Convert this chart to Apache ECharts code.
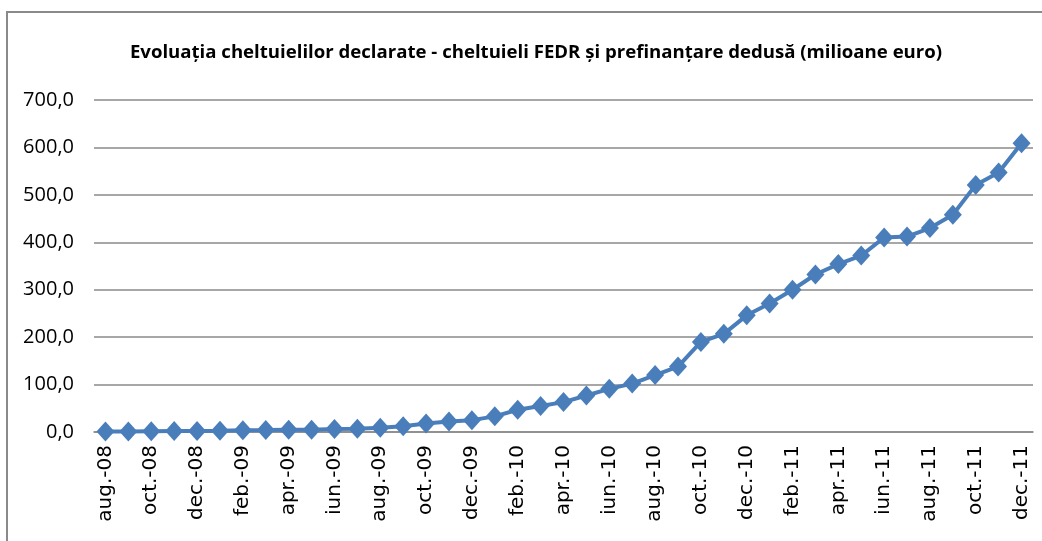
<!DOCTYPE html>
<html lang="ro">
<head>
<meta charset="UTF-8" />
<title>Evoluaţia cheltuielilor declarate</title>
<style>
  html, body { margin: 0; padding: 0; background: #fff; overflow: hidden; }
  #frame {
    position: absolute; left: 6px; top: 11px; width: 1100px; height: 600px;
    border-top: 2px solid #8a8a8a; border-left: 2px solid #8a8a8a;
  }
  #container { position: absolute; left: 0; top: 0; width: 1042px; height: 541px; }
</style>
</head>
<body>
<div id="frame"></div>
<div id="container"></div>
<script src="https://cdn.jsdelivr.net/npm/echarts@6/dist/echarts.min.js"></script>
<script>
// luni (aug.-08 ... dec.-11)
var months = [
  'aug.-08', 'sep.-08', 'oct.-08', 'noi.-08', 'dec.-08',
  'ian.-09', 'feb.-09', 'mar.-09', 'apr.-09', 'mai.-09', 'iun.-09', 'iul.-09',
  'aug.-09', 'sep.-09', 'oct.-09', 'noi.-09', 'dec.-09',
  'ian.-10', 'feb.-10', 'mar.-10', 'apr.-10', 'mai.-10', 'iun.-10', 'iul.-10',
  'aug.-10', 'sep.-10', 'oct.-10', 'noi.-10', 'dec.-10',
  'ian.-11', 'feb.-11', 'mar.-11', 'apr.-11', 'mai.-11', 'iun.-11', 'iul.-11',
  'aug.-11', 'sep.-11', 'oct.-11', 'noi.-11', 'dec.-11'
];
// cheltuieli declarate, milioane euro
var values = [
  1, 1, 1.5, 2, 2,
  2.5, 3.5, 4, 5, 5, 6.5, 7,
  9, 12, 18, 22, 25,
  33, 47, 55, 63, 77, 91, 102,
  120, 138, 190, 207, 246,
  271, 300, 332, 354, 372, 410, 412,
  430, 458, 521, 547, 609
];
var titleText = 'Evoluaţia cheltuielilor declarate - cheltuieli FEDR şi prefinanţare dedusă (milioane euro)';

var myChart = echarts.init(document.getElementById('container'));
var option = {
  animation: false,
  title: {
    text: titleText,
    left: 531,
    textAlign: 'center',
    top: 38,
    textStyle: {
      fontFamily: "'Open Sans', sans-serif",
      fontSize: 18.6,
      fontWeight: 'bold',
      color: '#000'
    }
  },
  grid: { left: 94, right: 9, top: 100, bottom: 109, containLabel: false },
  xAxis: {
    type: 'category',
    data: months,
    boundaryGap: true,
    axisLine: { lineStyle: { color: '#8a8a8a', width: 1.5 } },
    axisTick: { show: false },
    axisLabel: {
      interval: 1,
      rotate: 90,
      margin: 13,
      fontFamily: "'DejaVu Sans', sans-serif",
      fontSize: 20,
      color: '#000'
    }
  },
  yAxis: {
    type: 'value',
    min: 0,
    max: 700,
    interval: 100,
    axisLine: { show: false },
    axisTick: { show: false },
    splitLine: { lineStyle: { color: '#8a8a8a', width: 1.5 } },
    axisLabel: {
      margin: 20,
      fontFamily: "'Open Sans', sans-serif",
      fontSize: 20,
      color: '#000',
      formatter: function (v) { return v.toFixed(1).replace('.', ','); }
    }
  },
  series: [{
    type: 'line',
    data: values,
    showAllSymbol: true,
    symbol: 'diamond',
    symbolSize: [18, 20],
    lineStyle: { color: '#4a7ebb', width: 4 },
    itemStyle: { color: '#4a7ebb' }
  }]
};
myChart.setOption(option);
</script>
</body>
</html>
